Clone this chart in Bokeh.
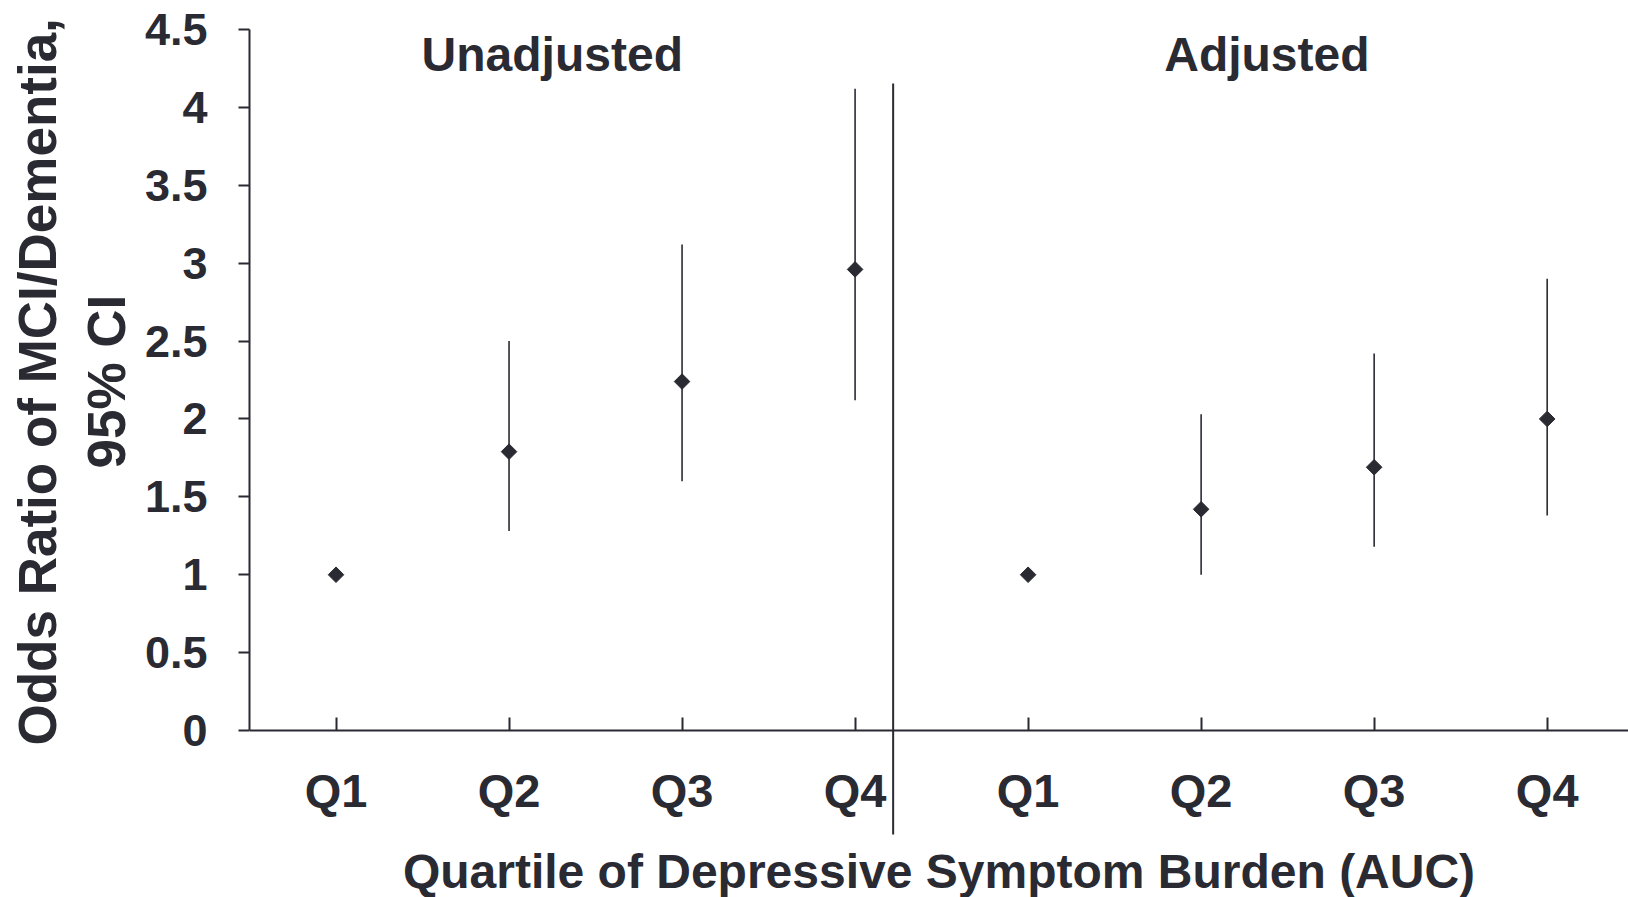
from bokeh.plotting import figure
from bokeh.models import FixedTicker, CustomJSTickFormatter, ColumnDataSource, Range1d, Title
from bokeh.embed import file_html
from bokeh.resources import INLINE
from bokeh.core.properties import value

# ---- data ----
quartiles = ["Q1", "Q2", "Q3", "Q4"]
panels = ["Unadjusted", "Adjusted"]
unadj_or = [1.00, 1.79, 2.24, 2.96]
unadj_lo = [None, 1.28, 1.60, 2.12]
unadj_hi = [None, 2.50, 3.12, 4.12]
adj_or = [1.00, 1.42, 1.69, 2.00]
adj_lo = [None, 1.00, 1.18, 1.38]
adj_hi = [None, 2.03, 2.42, 2.90]
y_ticks = [0, 0.5, 1, 1.5, 2, 2.5, 3, 3.5, 4, 4.5]
x_title = "Quartile of Depressive Symptom Burden (AUC)"
y_title_lines = ["Odds Ratio of MCI/Dementia,", "95% CI"]

# ---- layout ----
INK = "#2a2a33"
FONT = "Liberation Sans"
n = len(quartiles)
xs = list(range(1, 2 * n + 1))
tick_labels = quartiles + quartiles
ors = unadj_or + adj_or
los = unadj_lo + adj_lo
his = unadj_hi + adj_hi
divider_x = n + 0.22

pts = ColumnDataSource(dict(x=xs, y=ors))
ci_x = [x for x, l in zip(xs, los) if l is not None]
ci_lo = [l for l in los if l is not None]
ci_hi = [h for h in his if h is not None]
ci = ColumnDataSource(dict(x=ci_x, lo=ci_lo, hi=ci_hi))

p = figure(width=1628, height=897, output_backend="svg", toolbar_location=None,
           x_range=Range1d(0.5, 8.47), y_range=Range1d(-1.072, 4.5),
           min_border_left=249, min_border_right=0, min_border_top=29, min_border_bottom=0)
p.outline_line_color = None
p.xgrid.visible = False
p.ygrid.visible = False
p.background_fill_color = "white"
p.border_fill_color = "white"

# x axis at y = 0
xa = p.xaxis[0]
xa.fixed_location = 0
xa.ticker = FixedTicker(ticks=xs)
xa.formatter = CustomJSTickFormatter(args=dict(labels=tick_labels),
                                     code="return labels[Math.round(tick) - 1]")
xa.bounds = (0.5, 8.70)
xa.axis_line_color = INK
xa.axis_line_width = 2
xa.major_tick_line_color = INK
xa.major_tick_line_width = 2
xa.major_tick_in = 13
xa.major_tick_out = 0
xa.minor_tick_line_color = None
xa.major_label_standoff = 33
xa.major_label_text_font = FONT
xa.major_label_text_font_style = "bold"
xa.major_label_text_font_size = "47px"
xa.major_label_text_color = INK
xa.axis_label = x_title
xa.axis_label_text_font = FONT
xa.axis_label_text_font_style = "bold"
xa.axis_label_text_font_size = "48px"
xa.axis_label_text_color = INK
xa.axis_label_standoff = 25

# y axis on the left, limited to 0..4.5
ya = p.yaxis[0]
ya.bounds = (0, 4.5)
ya.ticker = FixedTicker(ticks=y_ticks)
ya.formatter = CustomJSTickFormatter(code="return String(tick)")
ya.axis_line_color = INK
ya.axis_line_width = 2
ya.major_tick_line_color = INK
ya.major_tick_line_width = 2
ya.major_tick_in = 0
ya.major_tick_out = 11
ya.minor_tick_line_color = None
ya.major_label_standoff = 31
ya.major_label_text_font = FONT
ya.major_label_text_font_style = "bold"
ya.major_label_text_font_size = "45px"
ya.major_label_text_color = INK

# y axis title: two rotated lines as side titles (inner line first)
p.add_layout(Title(text=y_title_lines[1], align="left", offset=429, standoff=11,
                   text_font=FONT, text_font_style="bold", text_font_size="53px",
                   text_color=INK), "left")
p.add_layout(Title(text=y_title_lines[0], align="left", offset=152, standoff=6,
                   text_font=FONT, text_font_style="bold", text_font_size="53px",
                   text_color=INK), "left")

# divider between panels
p.segment(x0=[divider_x], y0=[-0.667], x1=[divider_x], y1=[4.153],
          line_color=INK, line_width=2)

# confidence intervals
p.segment(x0="x", y0="lo", x1="x", y1="hi", source=ci, line_color=INK, line_width=1.6)

# point estimates
p.scatter(x="x", y="y", source=pts, marker="square", angle=0.785398,
          size=11, fill_color=INK, line_color=INK)

# panel titles
titles = ColumnDataSource(dict(x=[2.25, 6.38], y=[4.34, 4.34], t=panels))
p.text(x="x", y="y", text="t", source=titles, text_font=value(FONT),
       text_font_style="bold", text_font_size="48px", text_color=INK,
       text_align="center", text_baseline="alphabetic")

open("out.html", "w").write(file_html(p, INLINE))
